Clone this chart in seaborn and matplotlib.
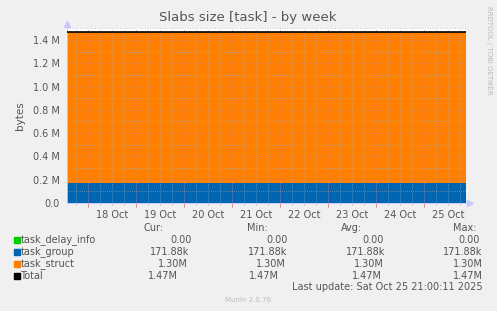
import matplotlib
matplotlib.use("Agg")
import matplotlib.pyplot as plt
import seaborn as sns
import numpy as np
import pandas as pd
from matplotlib.ticker import MultipleLocator, FixedLocator, FuncFormatter

# ---- data (days relative to 18 Oct 00:00) ----
time_days = [-0.44, 7.875]
task_delay_info = [0.0, 0.0]
task_group = [171.88e3, 171.88e3]
task_struct = [1.30e6, 1.30e6]
series_names = ["task_delay_info", "task_group", "task_struct"]
series_colors = ["#00CC00", "#0066B3", "#FF8000"]
day_labels = ["18 Oct", "19 Oct", "20 Oct", "21 Oct", "22 Oct", "23 Oct", "24 Oct", "25 Oct"]
stats_cur = ["0.00", "171.88k", "1.30M", "1.47M"]
stats_min = ["0.00", "171.88k", "1.30M", "1.47M"]
stats_avg = ["0.00", "171.88k", "1.30M", "1.47M"]
stats_max = ["0.00", "171.88k", "1.30M", "1.47M"]
legend_names = ["task_delay_info", "task_group", "task_struct", "Total"]
legend_colors = ["#00CC00", "#0066B3", "#FF8000", "#000000"]

sns.set_style("white")
plt.rcParams["font.family"] = ["DejaVu Sans"]

BG = "#F0F0F0"
TXT = "#555555"
RED = "#E08080"
GRY = "#B0B0B0"
fig = plt.figure(figsize=(4.97, 3.11), dpi=100, facecolor=BG)
W, H = 497, 311
ax = fig.add_axes([67 / W, 1 - 203 / H, (466 - 67) / W, (203 - 28) / H])
ax.set_facecolor("white")

df = pd.DataFrame({"t": time_days, "task_delay_info": task_delay_info,
                   "task_group": task_group, "task_struct": task_struct})
base = np.zeros(len(df))
for name, col in zip(series_names, series_colors):
    top = base + df[name].values
    ax.fill_between(df["t"], base, top, color=col, linewidth=0, zorder=1)
    base = top
df["total"] = base
sns.lineplot(data=df, x="t", y="total", color="black", linewidth=1.2, ax=ax, zorder=3)

ax.set_xlim(time_days[0], time_days[-1])
ax.set_ylim(0, 1.503e6)

# ticks / grids
ax.yaxis.set_major_locator(MultipleLocator(0.2e6))
ax.yaxis.set_minor_locator(MultipleLocator(0.1e6))
ax.xaxis.set_major_locator(FixedLocator([i + 0.5 for i in range(len(day_labels))]))
ax.xaxis.set_major_formatter(FuncFormatter(
    lambda v, p: day_labels[int(round(v - 0.5))] if 0 <= int(round(v - 0.5)) < len(day_labels) else ""))
ax.xaxis.set_minor_locator(MultipleLocator(0.25))
ax.yaxis.set_major_formatter(FuncFormatter(lambda v, p: "0.0" if v == 0 else f"{v/1e6:.1f} M"))

ax.grid(False)
for d in range(0, 8):
    ax.axvline(d, color=RED, linestyle=(0, (1, 2)), linewidth=0.6, zorder=2)
    ax.plot([d, d], [-0.02, 0], color=RED, linewidth=0.6, transform=ax.get_xaxis_transform(), clip_on=False)
for q in np.arange(-0.25, 7.9, 0.25):
    if abs(q - round(q)) > 1e-6:
        ax.axvline(q, color=GRY, linestyle=(0, (1, 2)), linewidth=0.5, zorder=2)
        ax.plot([q, q], [-0.012, 0], color=GRY, linewidth=0.5, transform=ax.get_xaxis_transform(), clip_on=False)
for yv in np.arange(0.1e6, 1.5e6, 0.1e6):
    major = abs((yv / 0.2e6) - round(yv / 0.2e6)) < 1e-6
    ax.axhline(yv, color=RED if major else GRY, linestyle=(0, (1, 2)),
               linewidth=0.6 if major else 0.5, zorder=2)
ax.axhline(1.503e6, color=GRY, linestyle=(0, (1, 2)), linewidth=0.6, zorder=2, clip_on=False)

ax.tick_params(axis="both", which="both", labelsize=7, colors=TXT, length=2, width=0.5)
ax.tick_params(axis="x", which="major", length=0, pad=5)
ax.tick_params(axis="x", which="minor", length=0)
ax.tick_params(axis="y", which="major", length=3, pad=2, color=RED)
ax.tick_params(axis="y", which="minor", length=2, color=GRY)
for sp in ["top", "right"]:
    ax.spines[sp].set_visible(False)
for sp in ["left", "bottom"]:
    ax.spines[sp].set_color("#C8C8FF")
    ax.spines[sp].set_linewidth(0.6)
ax.plot([0], [1.025], marker="^", color="#C8C8FF", markersize=4, transform=ax.transAxes, clip_on=False)
ax.plot([1.01], [0], marker=">", color="#C8C8FF", markersize=4, transform=ax.transAxes, clip_on=False)
ax.set_xlabel("")
ax.set_ylabel("bytes", fontsize=7.5, color=TXT, labelpad=6)

fig.text(248 / W, 1 - 18 / H, "Slabs size [task] - by week", ha="center", va="center", fontsize=9.5, color=TXT)
fig.text(489 / W, 1 - 50 / H, "RRDTOOL / TOBI OETIKER", rotation=270, ha="center", va="center",
         fontsize=5, color="#BBBBBB")

# legend table
fs = 7
hdr_y = 228
fig.text(164 / W, 1 - hdr_y / H, "Cur:", ha="right", va="center", fontsize=fs, color=TXT)
fig.text(268 / W, 1 - hdr_y / H, "Min:", ha="right", va="center", fontsize=fs, color=TXT)
fig.text(362 / W, 1 - hdr_y / H, "Avg:", ha="right", va="center", fontsize=fs, color=TXT)
fig.text(477 / W, 1 - hdr_y / H, "Max:", ha="right", va="center", fontsize=fs, color=TXT)
rows_y = [240, 252, 264, 276]
cur_x = [192, 189, 188, 178]
min_x = [288, 287, 286, 279]
avg_x = [384, 385, 384, 382]
max_x = [480, 482, 483, 483]
for i, (name, col) in enumerate(zip(legend_names, legend_colors)):
    yy = 1 - rows_y[i] / H
    fig.patches.append(plt.Rectangle((14 / W, 1 - (rows_y[i] + 3) / H), 6 / W, 6 / H,
                                     transform=fig.transFigure, color=col, figure=fig))
    fig.text(20.5 / W, yy, name, ha="left", va="center", fontsize=fs, color=TXT)
    fig.text(cur_x[i] / W, yy, stats_cur[i], ha="right", va="center", fontsize=fs, color=TXT)
    fig.text(min_x[i] / W, yy, stats_min[i], ha="right", va="center", fontsize=fs, color=TXT)
    fig.text(avg_x[i] / W, yy, stats_avg[i], ha="right", va="center", fontsize=fs, color=TXT)
    fig.text(max_x[i] / W, yy, stats_max[i], ha="right", va="center", fontsize=fs, color=TXT)
fig.text(483 / W, 1 - 287 / H, "Last update: Sat Oct 25 21:00:11 2025", ha="right", va="center",
         fontsize=fs, color=TXT)
fig.text(248 / W, 1 - 300 / H, "Munin 2.0.76", ha="center", va="center", fontsize=5, color="#BBBBBB")

fig.savefig("out.png", dpi=100, facecolor=BG)
